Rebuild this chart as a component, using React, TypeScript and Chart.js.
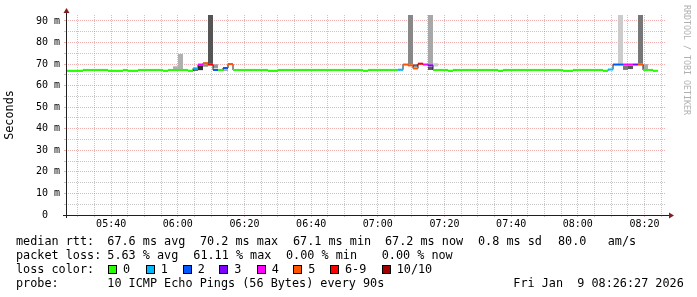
import React, { useEffect, useRef } from 'react';
import { Chart, registerables } from 'chart.js';

Chart.register(...registerables);

// ---- axis ranges (x in minutes after midnight) ----
const X_MIN = 326.45; // 05:26:27
const X_MAX = 506.45; // 08:26:27
const Y_MAX = 92.78;
const FIRST_STEP_CENTER = 326.3; // centre of the first 90 s step
const STEP_MINUTES = 1.5;

// ---- ticks ----
const X_GRID_MINUTES = [330, 335, 340, 345, 350, 355, 360, 365, 370, 375, 380, 385, 390, 395, 400, 405, 410, 415, 420, 425, 430, 435, 440, 445, 450, 455, 460, 465, 470, 475, 480, 485, 490, 495, 500, 505];
const X_MAJOR_MINUTES = [340, 360, 380, 400, 420, 440, 460, 480, 500];
const X_LABELS = ['05:40', '06:00', '06:20', '06:40', '07:00', '07:20', '07:40', '08:00', '08:20'];
const Y_GRID = [0, 5, 10, 15, 20, 25, 30, 35, 40, 45, 50, 55, 60, 65, 70, 75, 80, 85, 90];
const Y_MAJOR = [0, 10, 20, 30, 40, 50, 60, 70, 80, 90];
const Y_LABELS = ['0  ', '10 m', '20 m', '30 m', '40 m', '50 m', '60 m', '70 m', '80 m', '90 m'];

// ---- median rtt per 90 s step (ms) ----
const MEDIAN_MS = [
  66.9, 66.9, 66.9, 66.9, 67.3, 67.3, 67.3, 67.3, 67.3, 66.9,
  66.9, 66.9, 67.3, 66.9, 66.9, 67.3, 67.3, 67.3, 67.3, 67.3,
  66.9, 67.3, 67.3, 67.3, 67.3, 66.9, 68.0, 69.8, 70.4, 69.8,
  67.3, 67.3, 68.2, 70.0, 67.3, 67.3, 67.3, 67.3, 67.3, 67.3,
  67.3, 66.9, 66.9, 67.3, 67.3, 67.3, 67.3, 67.3, 67.3, 67.3,
  67.3, 67.3, 67.3, 67.3, 67.3, 67.3, 67.3, 67.3, 67.3, 67.3,
  66.9, 67.3, 67.3, 67.3, 67.3, 67.3, 67.3, 67.4, 69.8, 69.4,
  68.0, 70.2, 69.8, 69.4, 67.3, 67.3, 67.3, 66.9, 67.3, 67.3,
  67.3, 67.3, 67.3, 67.3, 67.3, 67.3, 67.3, 66.9, 67.3, 67.3,
  67.3, 67.3, 67.3, 67.3, 67.3, 67.3, 67.3, 67.3, 67.3, 67.3,
  66.9, 66.9, 67.3, 67.3, 67.3, 67.3, 67.3, 67.3, 66.9, 67.5,
  69.8, 69.8, 69.8, 69.8, 69.8, 69.8, 67.3, 67.3, 66.9,
];

// ---- lost pings (of 10) per step ----
const LOSS = [
  0, 0, 0, 0, 0, 0, 0, 0, 0, 0,
  0, 0, 0, 0, 0, 0, 0, 0, 0, 0,
  0, 0, 0, 0, 0, 0, 1, 4, 5, 6,
  2, 0, 2, 5, 0, 0, 0, 0, 0, 0,
  0, 0, 0, 0, 0, 0, 0, 0, 0, 0,
  0, 0, 0, 0, 0, 0, 0, 0, 0, 0,
  0, 0, 0, 0, 0, 0, 0, 1, 5, 5,
  5, 6, 4, 3, 0, 0, 0, 0, 0, 0,
  0, 0, 0, 0, 0, 0, 0, 0, 0, 0,
  0, 0, 0, 0, 0, 0, 0, 0, 0, 0,
  0, 0, 0, 0, 0, 0, 0, 0, 0, 1,
  2, 2, 4, 4, 3, 5, 0, 0, 0,
];

// ---- visible smoke (ping spread) ----
const SMOKE_STEP = [22, 23, 26, 27, 28, 29, 30, 32, 69, 70, 73, 73, 74, 111, 112, 113, 115, 116];
const SMOKE_LOW = [67.3, 67.3, 66.9, 67.2, 68.8, 70.2, 68.1, 66.8, 69.9, 68.8, 69.9, 67.3, 68.9, 70.2, 67.3, 67.7, 70.2, 67.6];
const SMOKE_HIGH = [69.0, 74.7, 67.6, 69.4, 69.9, 92.78, 69.9, 67.6, 92.78, 69.9, 92.78, 68.8, 70.4, 92.78, 69.3, 69.3, 92.78, 70.0];
const SMOKE_SHADE = ['#b0b0b0', '#b0b0b0', '#404040', '#303030', '#888888', '#555555', '#999999', '#aaaaaa', '#888888', '#666666', '#a8a8a8', '#555555', '#cccccc', '#cccccc', '#777777', '#555555', '#777777', '#aaaaaa'];

// ---- legend ----
const LOSS_LEGEND_LABELS = ['0', '1', '2', '3', '4', '5', '6-9', '10/10'];
const LOSS_LEGEND_COLORS = ['#26ff00', '#00b8ff', '#0059ff', '#7e00ff', '#ff00ff', '#ff5500', '#ff0000', '#a00000'];
const RTT_TEXT = ['median rtt:', '67.6 ms avg', '70.2 ms max', '67.1 ms min', '67.2 ms now', '0.8 ms sd', '80.0   am/s'];
const LOSS_TEXT = ['packet loss:', '5.63 % avg', '61.11 % max', '0.00 % min', '0.00 % now'];
const PROBE_TEXT = ['probe:', '10 ICMP Echo Pings (56 Bytes) every 90s', 'Fri Jan  9 08:26:27 2026'];

// ---- layout / style ----
const RTT_X = [16, 107.3, 200, 293, 385, 478, 558];
const LOSS_X = [16, 107.3, 193.3, 286, 381.7];
const PROBE_X = [16, 107.3, 513.3];
const SWATCH_X = [108, 145.7, 182.7, 219.3, 256.7, 293.3, 330, 381.7];
const MONO = '"DejaVu Sans Mono", monospace';
const GRID = 'rgba(143,143,143,0.5)';
const MGRID = 'rgba(222,79,79,0.45)';
const AXIS_COLOR = '#1f1f1f';
const ARROW_COLOR = '#801f1f';

function lossColor(l: number): string {
  if (l >= 10) return LOSS_LEGEND_COLORS[7];
  if (l >= 6) return LOSS_LEGEND_COLORS[6];
  return LOSS_LEGEND_COLORS[l];
}

export default function App() {
  const ref = useRef<HTMLCanvasElement>(null);

  useEffect(() => {
    const canvas = ref.current;
    if (!canvas) return;
    const times = MEDIAN_MS.map((_, i) => FIRST_STEP_CENTER + i * STEP_MINUTES);
    const half = Y_MAX / 200;

    const axisPlugin = {
      id: 'rrdAxes',
      afterDatasetsDraw(chart: any) {
        const { ctx, chartArea: a } = chart;
        ctx.save();
        ctx.strokeStyle = AXIS_COLOR;
        ctx.lineWidth = 1;
        ctx.beginPath();
        ctx.moveTo(a.left - 3, a.bottom + 0.5);
        ctx.lineTo(a.right + 3, a.bottom + 0.5);
        ctx.moveTo(a.left + 0.5, a.bottom + 3);
        ctx.lineTo(a.left + 0.5, a.top - 2);
        ctx.stroke();
        ctx.fillStyle = ARROW_COLOR;
        ctx.beginPath();
        ctx.moveTo(a.left + 0.5, a.top - 7);
        ctx.lineTo(a.left - 2.5, a.top - 2);
        ctx.lineTo(a.left + 3.5, a.top - 2);
        ctx.closePath();
        ctx.fill();
        ctx.beginPath();
        ctx.moveTo(a.right + 8, a.bottom + 0.5);
        ctx.lineTo(a.right + 3, a.bottom - 2.5);
        ctx.lineTo(a.right + 3, a.bottom + 3.5);
        ctx.closePath();
        ctx.fill();
        ctx.restore();
      },
    };

    const isMajorX = (c: any) => c.tick && X_MAJOR_MINUTES.includes(Math.round(c.tick.value * 100) / 100);
    const isMajorY = (c: any) => c.tick && Y_MAJOR.includes(c.tick.value);

    const chart = new Chart(canvas, {
      type: 'bar',
      data: {
        datasets: [
          {
            type: 'bar',
            label: 'median',
            data: MEDIAN_MS.map((m, i) => ({ x: times[i], y: [m - half, m + half] })) as any,
            backgroundColor: LOSS.map(lossColor),
            grouped: false,
            barPercentage: 1,
            categoryPercentage: 1,
            borderWidth: 0,
            inflateAmount: 0,
          } as any,
          {
            type: 'line',
            label: 'median line',
            data: MEDIAN_MS.map((m, i) => ({ x: times[i], y: m })) as any,
            stepped: 'middle',
            borderColor: '#202020',
            borderWidth: 1,
            pointRadius: 0,
            fill: false,
          } as any,
          {
            type: 'bar',
            label: 'smoke',
            data: SMOKE_STEP.map((k, j) => ({ x: times[k], y: [SMOKE_LOW[j], SMOKE_HIGH[j]] })) as any,
            backgroundColor: SMOKE_SHADE,
            grouped: false,
            barPercentage: 1,
            categoryPercentage: 1,
            borderWidth: 0,
            inflateAmount: 0,
          } as any,
        ],
      },
      options: {
        animation: false,
        responsive: false,
        devicePixelRatio: 1,
        layout: { padding: { left: 0, right: 31, top: 15, bottom: 52 } },
        plugins: { legend: { display: false }, tooltip: { enabled: false } },
        scales: {
          x: {
            type: 'linear',
            min: X_MIN,
            max: X_MAX,
            offset: false,
            afterBuildTicks: (s: any) => {
              s.ticks = X_GRID_MINUTES.map((v) => ({ value: v }));
            },
            afterFit: (s: any) => {
              s.height = 30;
            },
            grid: {
              offset: false,
              color: (c: any) => (isMajorX(c) ? MGRID : GRID),
              lineWidth: 1,
              drawTicks: true,
              tickLength: 2,
            },
            border: { display: false, dash: [1, 1] },
            ticks: {
              autoSkip: false,
              maxRotation: 0,
              padding: 1,
              color: '#000',
              font: { family: MONO, size: 10 },
              callback: (v: any) => {
                const idx = X_MAJOR_MINUTES.indexOf(Math.round(Number(v) * 100) / 100);
                return idx >= 0 ? X_LABELS[idx] : '';
              },
            },
          } as any,
          y: {
            type: 'linear',
            min: 0,
            max: Y_MAX,
            afterBuildTicks: (s: any) => {
              s.ticks = Y_GRID.map((v) => ({ value: v }));
            },
            afterFit: (s: any) => {
              s.width = 66;
            },
            grid: {
              color: (c: any) => (c.tick && c.tick.value === 0 ? 'rgba(0,0,0,0)' : isMajorY(c) ? MGRID : GRID),
              lineWidth: 1,
              drawTicks: true,
              tickLength: 2,
            },
            border: { display: false, dash: [1, 1] },
            title: {
              display: true,
              text: 'Seconds',
              color: '#000',
              font: { family: MONO, size: 11.8 },
              padding: { top: 3, bottom: 0 },
            },
            ticks: {
              autoSkip: false,
              padding: 4,
              color: '#000',
              font: { family: MONO, size: 10 },
              callback: (v: any) => {
                const idx = Y_MAJOR.indexOf(Number(v));
                return idx >= 0 ? Y_LABELS[idx] : '';
              },
            },
          } as any,
        },
      },
      plugins: [axisPlugin],
    });
    return () => chart.destroy();
  }, []);

  const textStyle = (x: number, centerY: number): React.CSSProperties => ({
    position: 'absolute',
    left: x,
    top: centerY - 7,
    lineHeight: '14px',
    fontFamily: MONO,
    fontSize: 11.8,
    color: '#000',
    whiteSpace: 'pre',
  });

  return (
    <div style={{ position: 'fixed', left: 0, top: 0, width: 697, height: 297, background: '#fff', overflow: 'hidden' }}>
      <canvas ref={ref} width={697} height={297} style={{ position: 'absolute', left: 0, top: 0, width: 697, height: 297 }} />
      {RTT_TEXT.map((t, i) => (
        <span key={'r' + i} style={textStyle(RTT_X[i], 241)}>{t}</span>
      ))}
      {LOSS_TEXT.map((t, i) => (
        <span key={'l' + i} style={textStyle(LOSS_X[i], 255)}>{t}</span>
      ))}
      <span style={textStyle(16, 269)}>loss color:</span>
      {LOSS_LEGEND_LABELS.map((t, i) => (
        <React.Fragment key={'c' + i}>
          <span
            style={{
              position: 'absolute',
              left: SWATCH_X[i],
              top: 265,
              width: 7,
              height: 7,
              border: '1px solid #000',
              background: LOSS_LEGEND_COLORS[i],
            }}
          />
          <span style={textStyle(SWATCH_X[i] + 15, 269)}>{t}</span>
        </React.Fragment>
      ))}
      {PROBE_TEXT.map((t, i) => (
        <span key={'p' + i} style={textStyle(PROBE_X[i], 283)}>{t}</span>
      ))}
      <div
        style={{
          position: 'absolute',
          left: 682,
          top: 5,
          writingMode: 'vertical-rl',
          fontFamily: MONO,
          fontSize: 8.3,
          lineHeight: '10px',
          color: '#b0b0b0',
          whiteSpace: 'pre',
        }}
      >
        RRDTOOL / TOBI OETIKER
      </div>
    </div>
  );
}
